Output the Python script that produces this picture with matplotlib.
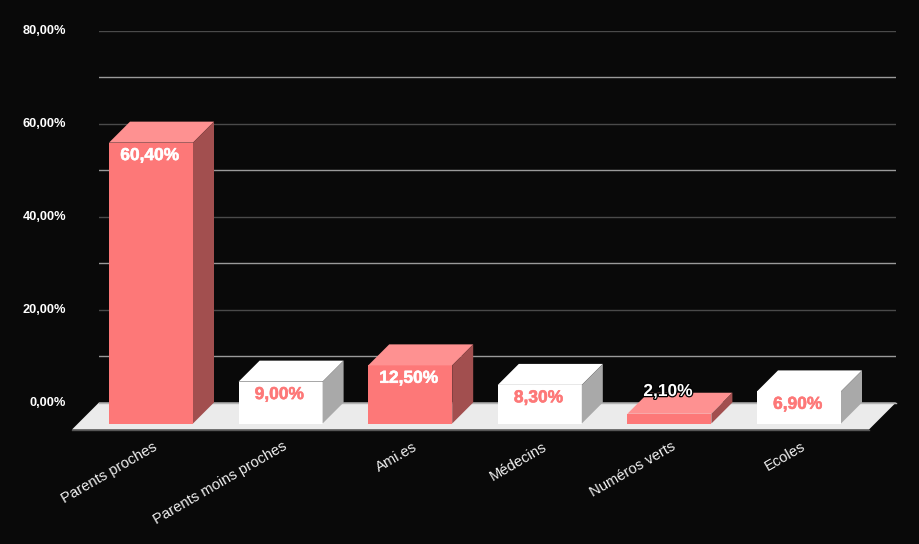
import numpy as np
import matplotlib
matplotlib.use("Agg")
import matplotlib.pyplot as plt
from matplotlib.patches import Polygon
from matplotlib.transforms import Affine2D
import matplotlib.patheffects as pe

plt.rcParams["font.family"] = ["Liberation Sans", "DejaVu Sans"]

# Chart data
categories = ["Parents proches", "Parents moins proches", "Ami.es",
              "Médecins", "Numéros verts", "Ecoles"]
values = [60.4, 9.0, 12.5, 8.3, 2.1, 6.9]
value_labels = ["60,40%", "9,00%", "12,50%", "8,30%", "2,10%", "6,90%"]
y_ticks = [0, 20, 40, 60, 80]
y_tick_labels = ["0,00%", "20,00%", "40,00%", "60,00%", "80,00%"]
y_minor_ticks = [10, 30, 50, 70]

# Colours
BG = "#090909"
FLOOR = "#ebebeb"
RED = ("#fd7878", "#fe9191", "#a24f4f")
WHITE = ("#ffffff", "#ffffff", "#a9a9a9")

W, H = 919, 544
# Pixel extent of the back wall
LEFT, RIGHT, TOP, BOTTOM = 99, 896, 30.5, 402.5
# Pixel sizes of the 3D effect
STEP_PX = 129.6
BAR_PX = 84
DEPTH_PX = 21
FLOOR_PX = 27

fig = plt.figure(figsize=(W / 100, H / 100), dpi=100, facecolor=BG)
ax = fig.add_axes([LEFT / W, 1 - BOTTOM / H, (RIGHT - LEFT) / W, (BOTTOM - TOP) / H])
ax.set_facecolor(BG)
for s in ax.spines.values():
    s.set_visible(False)

# x = 0 sits at pixel 172 on the back wall
ax.set_xlim((LEFT - 172) / STEP_PX, (RIGHT - 172) / STEP_PX)
ax.set_ylim(0, 80)
px_y = 80 / (BOTTOM - TOP)
dx = DEPTH_PX / STEP_PX
dy = DEPTH_PX * px_y
bar_w = BAR_PX / STEP_PX

# Grid on the back wall
ax.set_yticks(y_ticks)
ax.set_yticklabels(y_tick_labels, color="white", fontsize=9.2, fontweight="bold")
ax.set_yticks(y_minor_ticks, minor=True)
ax.tick_params(axis="y", which="both", length=0, pad=23.8)
ax.grid(axis="y", which="major", color="#4a4a4a", linewidth=1)
ax.grid(axis="y", which="minor", color="#9a9a9a", linewidth=1)
ax.set_axisbelow(True)
up = Affine2D().translate(0, 1)
for lab in ax.get_yticklabels():
    lab.set_transform(lab.get_transform() + up)

# Floor, with the light back edge on top of it
x0, x1 = ax.get_xlim()
fdx = FLOOR_PX / STEP_PX
fdy = FLOOR_PX * px_y
ax.add_patch(Polygon([(x0, 0), (x1, 0), (x1 - fdx, -fdy), (x0 - fdx, -fdy)],
                     closed=True, facecolor=FLOOR, edgecolor="none",
                     clip_on=False, zorder=2))
ax.plot([x0, x1], [0, 0], color="#b4b4b4", linewidth=1, clip_on=False, zorder=2.5)
ax.plot([x0 - fdx, x1 - fdx], [-fdy, -fdy], color="#555555", linewidth=1,
        clip_on=False, zorder=2.5)

xs = np.arange(len(categories))
for i, (x, v) in enumerate(zip(xs, values)):
    front, top, side = RED if i % 2 == 0 else WHITE
    l = x - dx - bar_w / 2
    r = x - dx + bar_w / 2
    base = -dy
    # Front, top and side faces
    ax.bar(x - dx, v, width=bar_w, bottom=base, color=front, clip_on=False, zorder=3)
    ax.add_patch(Polygon([(l, base + v), (r, base + v), (r + dx, v), (l + dx, v)],
                         closed=True, facecolor=top, edgecolor="none",
                         clip_on=False, zorder=3))
    ax.add_patch(Polygon([(r, base), (r + dx, 0), (r + dx, v), (r, base + v)],
                         closed=True, facecolor=side, edgecolor="none",
                         clip_on=False, zorder=3))

    # Value label
    if i == 4:
        offset, color, stroke = 16, "white", "black"
    else:
        offset, color = -9.3, "white" if i % 2 == 0 else RED[0]
        stroke = color
    ax.annotate(value_labels[i], (x - dx - 0.01, base + v), xytext=(0, offset),
                textcoords="offset points", ha="center", va="center",
                color=color, fontsize=12.5, fontweight="bold", zorder=5,
                annotation_clip=False,
                path_effects=[pe.withStroke(linewidth=1.8 if i == 4 else 0.4,
                                            foreground=stroke)])

# Category labels, shifted down to the front of the floor
ax.set_xticks(xs)
ax.set_xticklabels(categories, rotation=30, ha="right", rotation_mode="anchor",
                   color="#f0f0f0", fontsize=10.6)
ax.tick_params(axis="x", length=0, pad=0)
shift = Affine2D().translate(-19, -37)
for lab in ax.get_xticklabels():
    lab.set_transform(lab.get_transform() + shift)

fig.savefig("out.png", dpi=100, facecolor=BG)
